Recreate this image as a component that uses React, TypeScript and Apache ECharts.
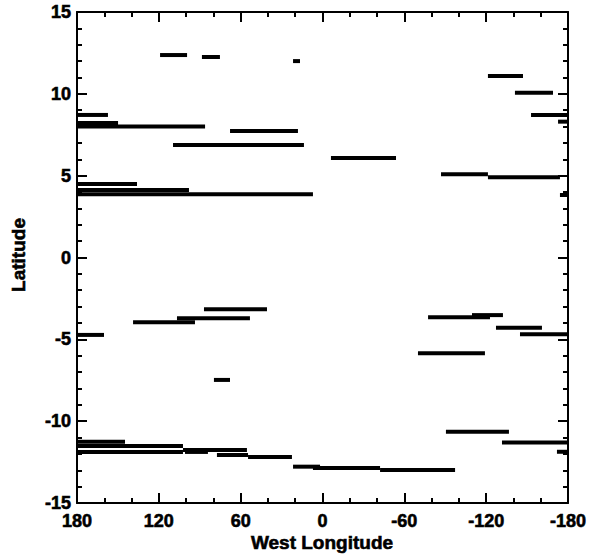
import React, { useEffect, useRef } from "react";
import * as echarts from "echarts";

// Segment data: west longitude start, end and latitude of each horizontal track
const segLonStart = [
  119.1, 88.4, 21.6, -121.3, -141.1, -152.9, -172.7, 180, 180, 180, 67.8, 109.6,
  -6.2, -86.9, -121.3, -174.1, 180, 180, 180,
  86.9, 106.7, 138.9, 180, 79.6, -109.6, -77.4, -127.2, -144.8, -70, -90.5,
  -131.6, -171.9, 180, 180, 180, 102.3, 100.8, 77.4, 54.6, 21.6, 7.0, -42.2,
];
const segLonEnd = [
  99.3, 75.2, 16.5, -147.0, -169.0, -180, -180, 157.3, 149.9, 86.1, 18.0, 13.6,
  -53.9, -121.3, -174.1, -180, 136.0, 97.9, 7.0,
  40.7, 53.2, 93.5, 160.2, 67.8, -132.3, -122.8, -160.9, -180, -119.1, -136.7,
  -180, -180, 144.8, 102.3, 102.3, 55.4, 84.0, 54.6, 22.4, 1.8, -42.2, -97.2,
];
const segLat = [
  12.37, 12.25, 12.0, 11.09, 10.07, 8.71, 8.3, 8.71, 8.22, 8.0, 7.73, 6.87,
  6.08, 5.08, 4.9, 3.82, 4.49, 4.12, 3.86,
  -3.16, -3.71, -3.96, -4.73, -7.48, -3.52, -3.65, -4.29, -4.69, -5.85, -10.64,
  -11.31, -11.87, -11.26, -11.52, -11.88, -11.76, -11.88, -12.07, -12.19, -12.78,
  -12.86, -12.98,
];

const xTitle = "West Longitude";
const yTitle = "Latitude";

const FONT = "'Liberation Sans', Arial, Helvetica, sans-serif";

function labelStyle(show: boolean, margin: number) {
  return {
    show,
    margin,
    color: "#000",
    fontFamily: FONT,
    fontWeight: "bold",
    fontSize: 18,
    textBorderColor: "#000",
    textBorderWidth: 0.6,
  };
}

function makeX(position: string, showLabel: boolean) {
  return {
    type: "value",
    position,
    min: -180,
    max: 180,
    interval: 60,
    inverse: true,
    axisLine: { show: true, onZero: false, lineStyle: { color: "#000", width: 2 } },
    axisTick: { show: true, inside: true, length: 10, lineStyle: { color: "#000", width: 2 } },
    minorTick: { show: true, splitNumber: 3, length: 5, lineStyle: { color: "#000", width: 2 } },
    splitLine: { show: false },
    minorSplitLine: { show: false },
    axisLabel: labelStyle(showLabel, 9),
  };
}

function makeY(position: string, showLabel: boolean) {
  return {
    type: "value",
    position,
    min: -15,
    max: 15,
    interval: 5,
    axisLine: { show: true, onZero: false, lineStyle: { color: "#000", width: 2 } },
    axisTick: { show: true, inside: true, length: 10, lineStyle: { color: "#000", width: 2 } },
    minorTick: { show: true, splitNumber: 5, length: 5, lineStyle: { color: "#000", width: 2 } },
    splitLine: { show: false },
    minorSplitLine: { show: false },
    axisLabel: labelStyle(showLabel, 6),
  };
}

export default function App() {
  const ref = useRef<HTMLDivElement>(null);

  useEffect(() => {
    if (!ref.current) return;
    const chart = echarts.init(ref.current, null, { renderer: "svg" });
    const data = segLat.map((lat, i) => [segLonStart[i], segLonEnd[i], lat]);

    chart.setOption({
      animation: false,
      backgroundColor: "#fff",
      grid: { left: 77, right: 22, top: 12, bottom: 52, containLabel: false },
      xAxis: [makeX("bottom", true), makeX("top", false)],
      yAxis: [makeY("left", true), makeY("right", false)],
      graphic: [
        {
          type: "text",
          x: 322,
          y: 542,
          style: {
            text: xTitle,
            fill: "#000",
            font: `bold 19px ${FONT}`,
            textAlign: "center",
            textVerticalAlign: "middle",
            stroke: "#000",
            lineWidth: 0.6,
          },
        },
        {
          type: "text",
          x: 18,
          y: 255,
          rotation: Math.PI / 2,
          style: {
            text: yTitle,
            fill: "#000",
            font: `bold 19px ${FONT}`,
            textAlign: "center",
            textVerticalAlign: "middle",
            stroke: "#000",
            lineWidth: 0.6,
          },
        },
      ],
      series: [
        {
          type: "custom",
          xAxisIndex: 0,
          yAxisIndex: 0,
          clip: true,
          encode: { x: [0, 1], y: 2 },
          data,
          renderItem: (params: any, api: any) => {
            const s = api.coord([api.value(0), api.value(2)]);
            const e = api.coord([api.value(1), api.value(2)]);
            const x0 = Math.min(s[0], e[0]);
            const w = Math.max(Math.abs(e[0] - s[0]), 3);
            return {
              type: "rect",
              shape: { x: x0, y: s[1] - 2, width: w, height: 4 },
              style: { fill: "#000" },
            };
          },
        },
      ],
    });

    return () => chart.dispose();
  }, []);

  return (
    <div
      ref={ref}
      style={{ position: "fixed", left: 0, top: 0, width: 590, height: 555, background: "#fff" }}
    />
  );
}
